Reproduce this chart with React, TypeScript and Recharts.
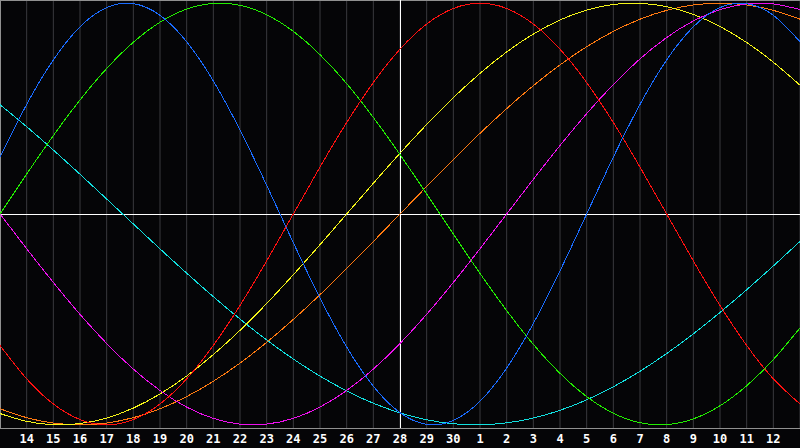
import React from 'react';
import {
  LineChart,
  Line,
  XAxis,
  YAxis,
  CartesianGrid,
  ReferenceLine,
} from 'recharts';

// day labels, one per column (first and last sit on the frame and stay unlabelled)
const days = [
  '13', '14', '15', '16', '17', '18', '19', '20', '21', '22', '23', '24', '25', '26', '27',
  '28', '29', '30', '1', '2', '3', '4', '5', '6', '7', '8', '9', '10', '11', '12', '13',
];

// cycle values, -1 .. 1
const physical = [
  0.2698, 0.5196, 0.7308, 0.8879, 0.9791, 0.9977, 0.9423, 0.817, 0.6311, 0.3984, 0.1362,
  -0.1362, -0.3984, -0.6311, -0.817, -0.9423, -0.9977, -0.9791, -0.8879, -0.7308, -0.5196,
  -0.2698, 0.0, 0.2698, 0.5196, 0.7308, 0.8879, 0.9791, 0.9977, 0.9423, 0.817,
];
const emotional = [
  -0.6235, -0.7818, -0.901, -0.9749, -1.0, -0.9749, -0.901, -0.7818, -0.6235, -0.4339, -0.2225,
  0.0, 0.2225, 0.4339, 0.6235, 0.7818, 0.901, 0.9749, 1.0, 0.9749, 0.901,
  0.7818, 0.6235, 0.4339, 0.2225, 0.0, -0.2225, -0.4339, -0.6235, -0.7818, -0.901,
];
const intellectual = [
  0.0, 0.1893, 0.3717, 0.5406, 0.6901, 0.8146, 0.9096, 0.9718, 0.9989, 0.9898, 0.945,
  0.866, 0.7557, 0.6182, 0.4582, 0.2817, 0.0951, -0.0951, -0.2817, -0.4582, -0.6182,
  -0.7557, -0.866, -0.945, -0.9898, -0.9989, -0.9718, -0.9096, -0.8146, -0.6901, -0.5406,
];
const intuitive = [
  0.0, -0.1646, -0.3247, -0.4759, -0.6142, -0.7357, -0.8372, -0.9158, -0.9694, -0.9966, -0.9966,
  -0.9694, -0.9158, -0.8372, -0.7357, -0.6142, -0.4759, -0.3247, -0.1646, 0.0, 0.1646,
  0.3247, 0.4759, 0.6142, 0.7357, 0.8372, 0.9158, 0.9694, 0.9966, 0.9966, 0.9694,
];
const aesthetic = [
  -0.9464, -0.9834, -0.9993, -0.994, -0.9675, -0.9204, -0.8536, -0.7686, -0.6671, -0.5517, -0.4245,
  -0.2881, -0.1456, 0.0, 0.1456, 0.2881, 0.4245, 0.5517, 0.6671, 0.7686, 0.8536,
  0.9204, 0.9675, 0.994, 0.9993, 0.9834, 0.9464, 0.8894, 0.8134, 0.7199, 0.6111,
];
const awareness = [
  -0.9239, -0.9659, -0.9914, -1.0, -0.9914, -0.9659, -0.9239, -0.866, -0.7934, -0.7071, -0.6088,
  -0.5, -0.3827, -0.2588, -0.1305, 0.0, 0.1305, 0.2588, 0.3827, 0.5, 0.6088,
  0.7071, 0.7934, 0.866, 0.9239, 0.9659, 0.9914, 1.0, 0.9914, 0.9659, 0.9239,
];
const spiritual = [
  0.5187, 0.414, 0.3034, 0.1885, 0.0711, -0.0474, -0.1652, -0.2807, -0.3922, -0.4982, -0.5973,
  -0.688, -0.769, -0.8393, -0.8976, -0.9434, -0.976, -0.9949, -0.9998, -0.9907, -0.9677,
  -0.9311, -0.8813, -0.8194, -0.7459, -0.6617, -0.5685, -0.4671, -0.3593, -0.2464, -0.13,
];

const SERIES = [
  { key: 'spiritual', color: '#11e0e0' },
  { key: 'awareness', color: '#ff7a10' },
  { key: 'aesthetic', color: '#f4f418' },
  { key: 'intuitive', color: '#ee10ee' },
  { key: 'intellectual', color: '#22ee00' },
  { key: 'emotional', color: '#ff1010' },
  { key: 'physical', color: '#1a6cff' },
];

const data = days.map((day, i) => ({
  i,
  day,
  physical: physical[i],
  emotional: emotional[i],
  intellectual: intellectual[i],
  intuitive: intuitive[i],
  aesthetic: aesthetic[i],
  awareness: awareness[i],
  spiritual: spiritual[i],
}));

const ticks = days.map((_, i) => i);

function DayTick({ x, y, payload }: any) {
  const idx = payload.value as number;
  if (idx <= 0 || idx >= days.length - 1) return <g />;
  return (
    <text
      x={x}
      y={y + 15}
      textAnchor="middle"
      fill="#ffffff"
      fontSize={12}
      fontWeight="bold"
      fontFamily="'DejaVu Sans Mono', monospace"
    >
      {days[idx]}
    </text>
  );
}

export default function App() {
  return (
    <div style={{ width: 800, height: 448, background: '#050507' }}>
      <style>{'body{margin:0;background:#050507}'}</style>
      <LineChart
        width={800}
        height={448}
        data={data}
        margin={{ top: 0, right: 0, bottom: 0, left: 0 }}
      >
        <CartesianGrid horizontal={false} stroke="#3a3a3e" strokeWidth={1} />
        <XAxis
          dataKey="i"
          type="number"
          domain={[0, 30]}
          ticks={ticks}
          interval={0}
          height={20}
          tickLine={false}
          tickSize={0}
          tickMargin={0}
          axisLine={{ stroke: '#909090', shapeRendering: 'crispEdges' }}
          tick={<DayTick />}
        />
        <YAxis hide domain={[-1.015, 1.015]} />
        <ReferenceLine y={1.015} stroke="#909090" shapeRendering="crispEdges" />
        <ReferenceLine x={0} stroke="#909090" shapeRendering="crispEdges" />
        <ReferenceLine y={0} stroke="#ffffff" shapeRendering="crispEdges" />
        <ReferenceLine x={15} stroke="#ffffff" shapeRendering="crispEdges" />
        {SERIES.map((s) => (
          <Line
            key={s.key}
            dataKey={s.key}
            type="natural"
            stroke={s.color}
            strokeWidth={1}
            shapeRendering="crispEdges"
            dot={false}
            activeDot={false}
            isAnimationActive={false}
          />
        ))}
      </LineChart>
    </div>
  );
}
